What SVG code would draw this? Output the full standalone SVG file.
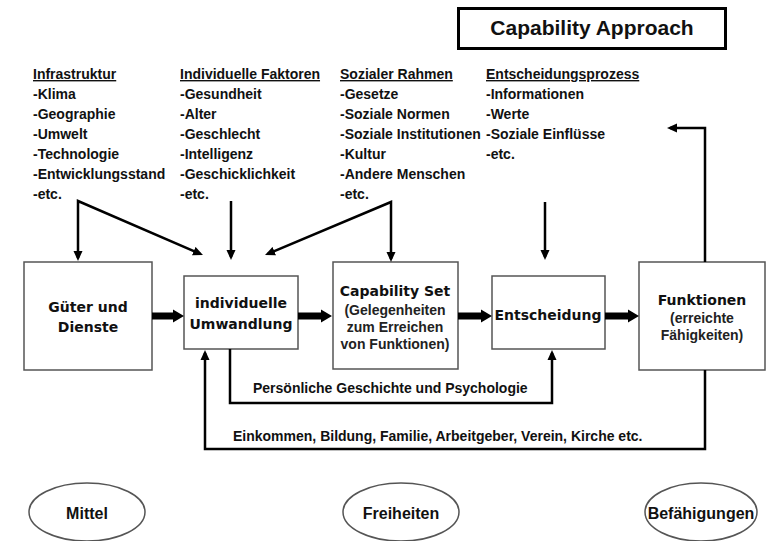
<svg xmlns="http://www.w3.org/2000/svg" width="767" height="541" viewBox="0 0 767 541">
<defs>
<marker id="ah" viewBox="0 0 10 10" refX="7" refY="5" markerWidth="10" markerHeight="10" markerUnits="userSpaceOnUse" orient="auto-start-reverse"><path d="M0,0.5 L10,5 L0,9.5 z" fill="#000"/></marker>
<style>
.col{font-family:"Liberation Sans",Arial,sans-serif;font-weight:bold;font-size:14px;fill:#111}
.hd{text-decoration:underline}
.box{fill:#fff;stroke:#555;stroke-width:1.5}
.bt{font-family:"DejaVu Sans",Verdana,sans-serif;font-weight:bold;font-size:14px;fill:#111;text-anchor:middle}
.st{font-family:"Liberation Sans",Arial,sans-serif;font-weight:bold;font-size:14px;fill:#222;text-anchor:middle}
.lb{font-family:"Liberation Sans",Arial,sans-serif;font-weight:bold;font-size:14px;fill:#111}
.et{font-family:"Liberation Sans",Arial,sans-serif;font-weight:bold;font-size:16px;fill:#111;text-anchor:middle}
.ln{fill:none;stroke:#000;stroke-width:2.5;stroke-linejoin:miter}
.arr{marker-end:url(#ah)}
.both{marker-start:url(#ah);marker-end:url(#ah)}
.thick{fill:#000}
.ell{fill:#fff;stroke:#555;stroke-width:1.5}
</style>
</defs>
<rect width="767" height="541" fill="#fff"/>

<g id="title">
<rect x="458.5" y="8.5" width="267" height="40" fill="#fff" stroke="#000" stroke-width="3"/>
<text x="592" y="35" text-anchor="middle" font-family="Liberation Sans, Arial, sans-serif" font-weight="bold" font-size="21" fill="#111">Capability Approach</text>
</g>

<g id="infrastruktur" class="col">
<text x="33" y="79" class="hd">Infrastruktur</text>
<text x="33" y="99">-Klima</text>
<text x="33" y="119">-Geographie</text>
<text x="33" y="139">-Umwelt</text>
<text x="33" y="159">-Technologie</text>
<text x="33" y="179">-Entwicklungsstand</text>
<text x="33" y="199">-etc.</text>
</g>
<g id="individuelle-faktoren" class="col">
<text x="180" y="79" class="hd">Individuelle Faktoren</text>
<text x="180" y="99">-Gesundheit</text>
<text x="180" y="119">-Alter</text>
<text x="180" y="139">-Geschlecht</text>
<text x="180" y="159">-Intelligenz</text>
<text x="180" y="179">-Geschicklichkeit</text>
<text x="180" y="199">-etc.</text>
</g>
<g id="sozialer-rahmen" class="col">
<text x="340" y="79" class="hd">Sozialer Rahmen</text>
<text x="340" y="99">-Gesetze</text>
<text x="340" y="119">-Soziale Normen</text>
<text x="340" y="139">-Soziale Institutionen</text>
<text x="340" y="159">-Kultur</text>
<text x="340" y="179">-Andere Menschen</text>
<text x="340" y="199">-etc.</text>
</g>
<g id="entscheidungsprozess" class="col">
<text x="486" y="79" class="hd">Entscheidungsprozess</text>
<text x="486" y="99">-Informationen</text>
<text x="486" y="119">-Werte</text>
<text x="486" y="139">-Soziale Einflüsse</text>
<text x="486" y="159">-etc.</text>
</g>

<g id="gueter">
<rect class="box" x="24" y="262" width="128" height="108"/>
<text class="bt" x="88" y="312">Güter und</text>
<text class="bt" x="88" y="332">Dienste</text>
</g>
<g id="umwandlung">
<rect class="box" x="184" y="276" width="114" height="73"/>
<text class="bt" x="241" y="308">individuelle</text>
<text class="bt" x="241" y="329">Umwandlung</text>
</g>
<g id="capability-set">
<rect class="box" x="333" y="262" width="125" height="107"/>
<text class="bt" x="395" y="296">Capability Set</text>
<text class="st" x="395" y="315">(Gelegenheiten</text>
<text class="st" x="395" y="332">zum Erreichen</text>
<text class="st" x="395" y="349">von Funktionen)</text>
</g>
<g id="entscheidung">
<rect class="box" x="492" y="276" width="113" height="73"/>
<text class="bt" x="548" y="320">Entscheidung</text>
</g>
<g id="funktionen">
<rect class="box" x="639" y="262" width="126" height="108"/>
<text class="bt" x="702" y="305">Funktionen</text>
<text class="st" x="702" y="323">(erreichte</text>
<text class="st" x="702" y="340">Fähigkeiten)</text>
</g>

<g id="mittel">
<ellipse class="ell" cx="87" cy="512" rx="58" ry="29"/>
<text class="et" x="87" y="519">Mittel</text>
</g>
<g id="freiheiten">
<ellipse class="ell" cx="401" cy="512" rx="58" ry="29"/>
<text class="et" x="401" y="519">Freiheiten</text>
</g>
<g id="befaehigungen">
<ellipse class="ell" cx="701" cy="512" rx="56" ry="29"/>
<text class="et" x="701" y="519">Befähigungen</text>
</g>

<g id="connectors">
<path class="ln both" d="M78,258 L78,201 L200.2,253.8"/>
<path class="ln arr" d="M231,201 L231,257"/>
<path class="ln both" d="M391,259 L391,202 L267.8,253.8"/>
<path class="ln arr" d="M545,202 L545,257"/>
<path class="ln arr" d="M705,262 L705,128 L670,128"/>
<path class="ln arr" d="M230,349 L230,403 L552,403 L552,353"/>
<path class="ln arr" d="M705,370 L705,449 L205,449 L205,353"/>
<polygon class="thick" points="152,312.5 173,312.5 173,309.5 184,316 173,322.5 173,319.5 152,319.5"/>
<polygon class="thick" points="298,312.5 321,312.5 321,309.5 332,316 321,322.5 321,319.5 298,319.5"/>
<polygon class="thick" points="458,312.5 481,312.5 481,309.5 492,316 481,322.5 481,319.5 458,319.5"/>
<polygon class="thick" points="605,312.5 628,312.5 628,309.5 639,316 628,322.5 628,319.5 605,319.5"/>
<text class="lb" x="253" y="393">Persönliche Geschichte und Psychologie</text>
<text class="lb" x="233" y="441">Einkommen, Bildung, Familie, Arbeitgeber, Verein, Kirche etc.</text>
</g>
</svg>
